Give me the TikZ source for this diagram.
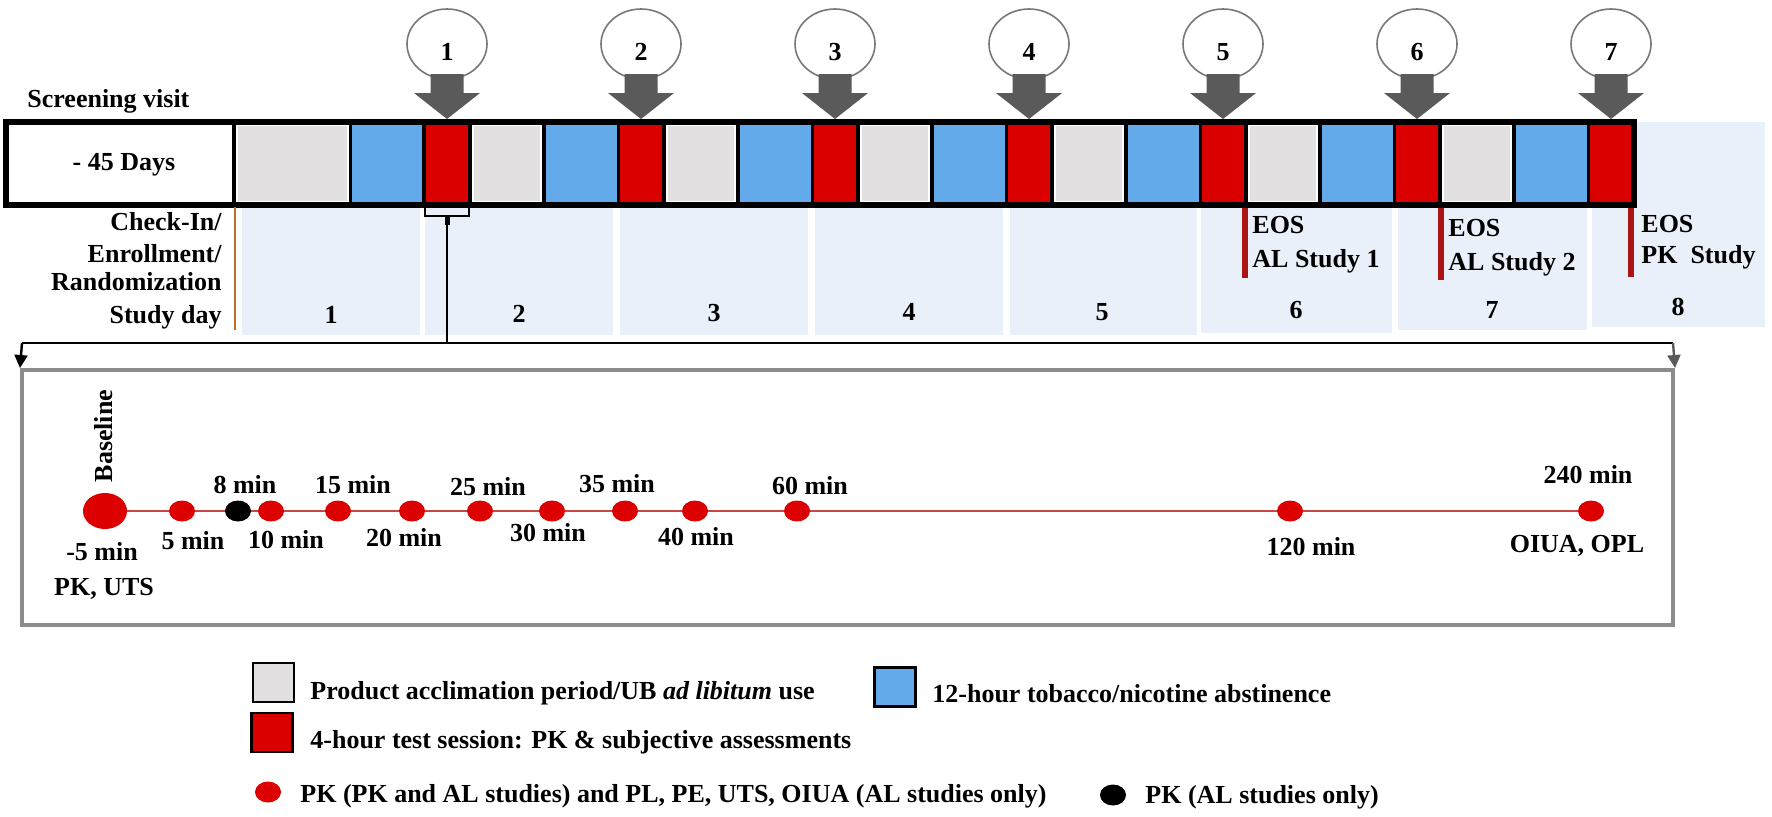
\documentclass[tikz,border=0pt]{standalone}
\usepackage{fontspec}
\setmainfont{Liberation Serif}
\usetikzlibrary{arrows.meta,shapes.geometric,backgrounds}
\definecolor{segred}{RGB}{218,0,0}
\definecolor{segblue}{RGB}{98,170,234}
\definecolor{seggrey}{RGB}{226,224,224}
\definecolor{daycell}{RGB}{234,240,249}
\definecolor{arrowgrey}{RGB}{90,90,90}
\definecolor{circgrey}{RGB}{120,120,120}
\definecolor{boxgrey}{RGB}{140,140,140}
\definecolor{eosred}{RGB}{170,20,20}
\definecolor{orangeline}{RGB}{190,110,40}
\definecolor{tline}{RGB}{200,70,70}
\definecolor{dotred}{RGB}{220,0,0}
\begin{document}
\begin{tikzpicture}[x=0.5pt,y=-0.5pt,
  txt/.style={font=\bfseries\fontsize{13}{17.5}\selectfont, inner sep=0pt},
  segbox/.style={draw=black, line width=1pt},
  numcirc/.style={ellipse, draw=circgrey, line width=0.8pt, fill=white, minimum width=40pt, minimum height=35pt, inner sep=0pt},
  fatarrow/.style={fill=arrowgrey},
  eosbar/.style={fill=eosred, inner sep=0pt, minimum width=3pt},
  reddot/.style={ellipse, fill=dotred, inner sep=0pt, minimum width=13pt, minimum height=10.5pt},
  blackdot/.style={ellipse, fill=black, inner sep=0pt, minimum width=13pt, minimum height=10.5pt},
  bigdot/.style={ellipse, fill=dotred, inner sep=0pt, minimum width=22pt, minimum height=18pt},
  legsq/.style={draw=black, line width=1.2pt, inner sep=0pt, minimum width=20.5pt, minimum height=19.5pt},
]
\useasboundingbox (0,0) rectangle (1772,816);

% day cells
\foreach \a/\b/\t/\bt in {242/420/208/335, 425/613/208/335, 620/808/208/335, 815/1003/208/335, 1010/1197/208/335, 1201/1392/208/333, 1398/1587/208/330, 1592/1765/122/327}
  \fill[daycell] (\a,\t) rectangle (\b,\bt);
\foreach \x/\y/\d in {331/323/1, 519/322/2, 714/321/3, 909/320/4, 1102/320/5, 1296/318/6, 1492/318/7, 1678/315/8}
  \node[txt, anchor=base] (day\d) at (\x,\y) {\d};

% bar
\draw[segbox, fill=white] (6,122) rectangle (233,205);
\node[txt, anchor=base] (days45) at (124,170) {- 45 Days};
\draw[segbox, fill=seggrey] (235,122) rectangle (350,205);
\draw[white, line width=1pt] (237,125) rectangle (348,202);
\draw[segbox, fill=segblue] (351,122) rectangle (423,205);
\foreach \k in {1,...,6} {
  \pgfmathsetmacro{\L}{425+194*(\k-1)}
  \draw[segbox, fill=seggrey] (\L+46,122) rectangle (\L+118,205);
  \draw[white, line width=1pt] (\L+48,125) rectangle (\L+116,202);
  \draw[segbox, fill=segblue] (\L+120,122) rectangle (\L+193,205);
}
\foreach \k in {1,...,7} {
  \pgfmathsetmacro{\C}{447+194*(\k-1)}
  \node[segbox, fill=segred, minimum width=22pt, minimum height=41.5pt, inner sep=0pt] (r\k) at (\C,163.5) {};
}
\draw[line width=2.8pt] (6,122) rectangle (1634,205);

% numbered circles and arrows
\foreach \k in {1,...,7} {
  \pgfmathsetmacro{\C}{447+194*(\k-1)}
  \node[numcirc] (c\k) at (\C,44) {};
  \node[txt, anchor=base] (n\k) at (\C,60) {\k};
  \fill[fatarrow] (\C-16.5,74) -- (\C+16.5,74) -- (\C+16.5,93) -- (\C+33,93) -- (\C,119) -- (\C-33,93) -- (\C-16.5,93) -- cycle;
}

\node[txt, anchor=base west] (screen) at (27,107) {Screening visit};

% left labels
\node[txt, anchor=base east] (chk) at (222,230) {Check-In/};
\node[txt, anchor=base east] (enr) at (222,262) {Enrollment/};
\node[txt, anchor=base east] (rnd) at (222,290) {Randomization};
\node[txt, anchor=base east] (sday) at (222,323) {Study day};
\draw[orangeline, line width=1.2pt] (235,207) -- (235,330);

% EOS markers
\node[eosbar, minimum height=35pt] (eos1) at (1245,243) {};
\node[eosbar, minimum height=36pt] (eos2) at (1441,244) {};
\node[eosbar, minimum height=34.5pt] (eos3) at (1631,242.5) {};
\node[txt, anchor=base west] (eos1a) at (1252,233) {EOS};
\node[txt, anchor=base west] (eos1b) at (1252,267) {AL Study 1};
\node[txt, anchor=base west] (eos2a) at (1448,236) {EOS};
\node[txt, anchor=base west] (eos2b) at (1448,270) {AL Study 2};
\node[txt, anchor=base west] (eos3a) at (1641,232) {EOS};
\node[txt, anchor=base west] (eos3b) at (1641,263) {PK~~Study};

% bracket and zoom connector
\draw[line width=1.3pt] (425,207) -- (425,216) -- (469,216) -- (469,207);
\draw[line width=2.5pt] (447,215) -- (447,225);
\coordinate (brk) at (447,225);
\coordinate (hjoin) at (447,343);
\coordinate (hl) at (22,343);
\coordinate (hr) at (1673,343);
\draw[line width=1pt] (brk) -- (hjoin);
\draw[line width=1.2pt] (hl) -- (hr);
\node[draw=boxgrey, line width=2pt, minimum width=825.5pt, minimum height=127.5pt, inner sep=0pt] (detail) at (847.5,497.5) {};
\draw[line width=1.2pt, -{Triangle[width=6.5pt,length=6.5pt]}] (hl) -- (detail.north west);
\draw[line width=1.2pt, arrowgrey, -{Triangle[width=6.5pt,length=6.5pt]}] (hr) -- (detail.north east);

% timeline
\node[bigdot] (t0) at (105,511) {};
\foreach \n/\x in {1/182, 3/271, 4/338, 5/412, 6/480, 7/552, 8/625, 9/695, 10/797, 11/1290, 12/1591}
  \node[reddot] (t\n) at (\x,511) {};
\node[blackdot] (t2) at (238,511) {};
\begin{scope}[on background layer]
  \draw[tline, line width=1pt] (t0) -- (t12);
\end{scope}
\node[txt, rotate=90] (bl) at (104,436) {Baseline};
\foreach \x/\y/\s in {245/493/8 min, 353/493/15 min, 488/495/25 min, 617/492/35 min, 810/494/60 min, 1588/483/240 min, 102/560/-5 min, 104/595/{PK, UTS}, 193/549/5 min, 286/548/10 min, 404/546/20 min, 548/541/30 min, 696/545/40 min, 1311/555/120 min, 1577/552/{OIUA, OPL}}
  \node[txt, anchor=base] at (\x,\y) {\s};

% legend
\node[legsq, fill=seggrey] (lg1) at (273.5,682.5) {};
\node[legsq, fill=segred] (lg2) at (272,732.5) {};
\node[legsq, fill=segblue] (lg3) at (895,687) {};
\node[reddot] (lg4) at (268,792) {};
\node[blackdot] (lg5) at (1113,795) {};
\node[txt, anchor=base west] (lt1) at (310,699) {Product acclimation period/UB \textit{ad libitum} use};
\node[txt, anchor=base west] (lt2) at (310,748) {4-hour test session: PK \& subjective assessments};
\node[txt, anchor=base west] (lt3) at (932,702) {12-hour tobacco/nicotine abstinence};
\node[txt, anchor=base west] (lt4) at (300,802) {PK (PK and AL studies) and PL, PE, UTS, OIUA (AL studies only)};
\node[txt, anchor=base west] (lt5) at (1145,803) {PK (AL studies only)};
\end{tikzpicture}
\end{document}
